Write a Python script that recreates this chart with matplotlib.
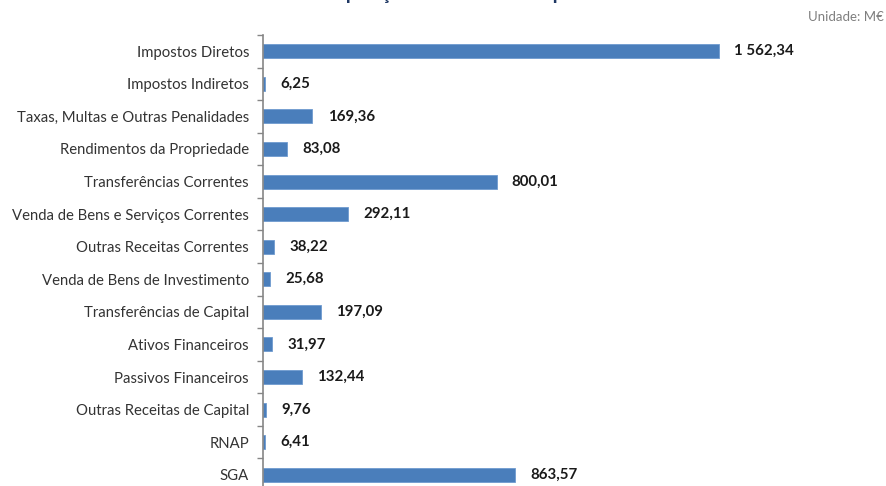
import matplotlib
matplotlib.use("Agg")
import matplotlib.pyplot as plt

categories = [
    "Impostos Diretos",
    "Impostos Indiretos",
    "Taxas, Multas e Outras Penalidades",
    "Rendimentos da Propriedade",
    "Transferências Correntes",
    "Venda de Bens e Serviços Correntes",
    "Outras Receitas Correntes",
    "Venda de Bens de Investimento",
    "Transferências de Capital",
    "Ativos Financeiros",
    "Passivos Financeiros",
    "Outras Receitas de Capital",
    "RNAP",
    "SGA",
]
values = [1562.34, 6.25, 169.36, 83.08, 800.01, 292.11, 38.22, 25.68,
          197.09, 31.97, 132.44, 9.76, 6.41, 863.57]


def fmt_pt(v):
    # Portuguese number format: space for thousands, comma for decimals
    s = f"{v:,.2f}"
    return s.replace(",", " ").replace(".", ",")


plt.rcParams["font.family"] = ["Lato", "DejaVu Sans"]

fig = plt.figure(figsize=(8.86, 4.86), dpi=100)
ax = fig.add_axes([263 / 886, -0.0103, 600 / 886, 0.9383])

ypos = list(range(len(categories)))
ax.barh(ypos, values, height=0.43, color="#4a7ebb", edgecolor="#6f9bd0",
        linewidth=0.6)

for y, v in zip(ypos, values):
    ax.annotate(fmt_pt(v), xy=(v, y), xytext=(11, 0), textcoords="offset points",
                ha="left", va="center", fontsize=10.8, fontweight="bold",
                color="#1a1a1a")

ax.set_xlim(0, 600 / 0.2919)
ax.set_ylim(len(categories) - 0.5, -0.5)

ax.set_yticks(ypos)
ax.set_yticklabels(categories, fontsize=10.7, color="#333333")
ax.tick_params(axis="y", which="major", length=0, pad=10)
ax.set_yticks([i + 0.5 for i in range(-1, len(categories))], minor=True)
ax.tick_params(axis="y", which="minor", length=4, color="#868686", width=1)
ax.set_xticks([])

for side in ("top", "right", "bottom"):
    ax.spines[side].set_visible(False)
ax.spines["left"].set_color("#868686")
ax.spines["left"].set_linewidth(1.2)

# chart title sits above the top edge, only its descenders reach the canvas
fig.text(0.457, 1.001, "Gráfico n.º 2 – Composição da receita total por fonte",
         ha="center", va="baseline", fontsize=14, fontweight="bold",
         color="#1f3864")
fig.text(0.998, 0.965, "Unidade: M€", ha="right", va="center", fontsize=9.5,
         color="#7f7f7f")

fig.savefig("out.png", dpi=100)
